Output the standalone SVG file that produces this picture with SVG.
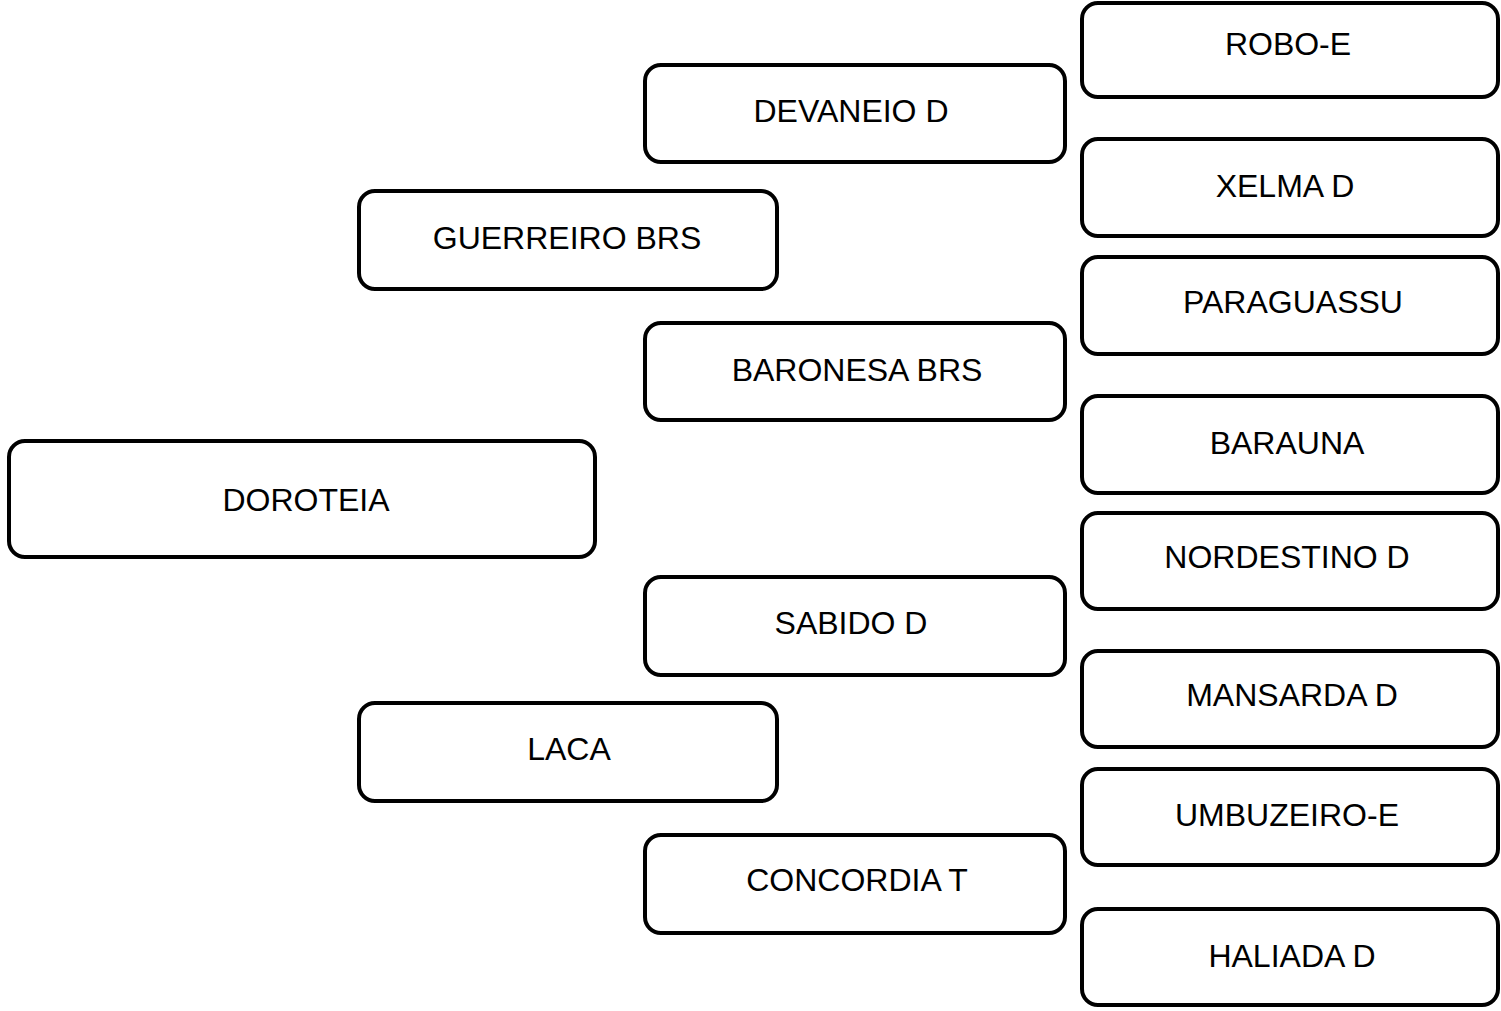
<svg xmlns="http://www.w3.org/2000/svg" width="1501" height="1011" viewBox="0 0 1501 1011">
<style>
.box{fill:#fff;stroke:#000;stroke-width:4}
.lbl{font-family:"Liberation Sans",Arial,sans-serif;font-size:32px;fill:#000;text-anchor:middle}
</style>
<rect width="1501" height="1011" fill="#fff"/>
<g id="connectors"></g>
<g id="doroteia"><rect class="box" x="9" y="441" width="586" height="116" rx="16"/><text class="lbl" x="306" y="511">DOROTEIA</text></g>
<g id="guerreiro"><rect class="box" x="359" y="191" width="418" height="98" rx="16"/><text class="lbl" x="567" y="249">GUERREIRO BRS</text></g>
<g id="laca"><rect class="box" x="359" y="703" width="418" height="98" rx="16"/><text class="lbl" x="569" y="760">LACA</text></g>
<g id="devaneio"><rect class="box" x="645" y="65" width="420" height="97" rx="16"/><text class="lbl" x="851" y="122">DEVANEIO D</text></g>
<g id="baronesa"><rect class="box" x="645" y="323" width="420" height="97" rx="16"/><text class="lbl" x="857" y="381">BARONESA BRS</text></g>
<g id="sabido"><rect class="box" x="645" y="577" width="420" height="98" rx="16"/><text class="lbl" x="851" y="634">SABIDO D</text></g>
<g id="concordia"><rect class="box" x="645" y="835" width="420" height="98" rx="16"/><text class="lbl" x="857" y="891">CONCORDIA T</text></g>
<g id="robo"><rect class="box" x="1082" y="3" width="416" height="94" rx="16"/><text class="lbl" x="1288" y="55">ROBO-E</text></g>
<g id="xelma"><rect class="box" x="1082" y="139" width="416" height="97" rx="16"/><text class="lbl" x="1285" y="197">XELMA D</text></g>
<g id="paraguassu"><rect class="box" x="1082" y="257" width="416" height="97" rx="16"/><text class="lbl" x="1293" y="313">PARAGUASSU</text></g>
<g id="barauna"><rect class="box" x="1082" y="396" width="416" height="97" rx="16"/><text class="lbl" x="1287" y="454">BARAUNA</text></g>
<g id="nordestino"><rect class="box" x="1082" y="513" width="416" height="96" rx="16"/><text class="lbl" x="1287" y="568">NORDESTINO D</text></g>
<g id="mansarda"><rect class="box" x="1082" y="651" width="416" height="96" rx="16"/><text class="lbl" x="1292" y="706">MANSARDA D</text></g>
<g id="umbuzeiro"><rect class="box" x="1082" y="769" width="416" height="96" rx="16"/><text class="lbl" x="1287" y="826">UMBUZEIRO-E</text></g>
<g id="haliada"><rect class="box" x="1082" y="909" width="416" height="96" rx="16"/><text class="lbl" x="1292" y="967">HALIADA D</text></g>
</svg>
